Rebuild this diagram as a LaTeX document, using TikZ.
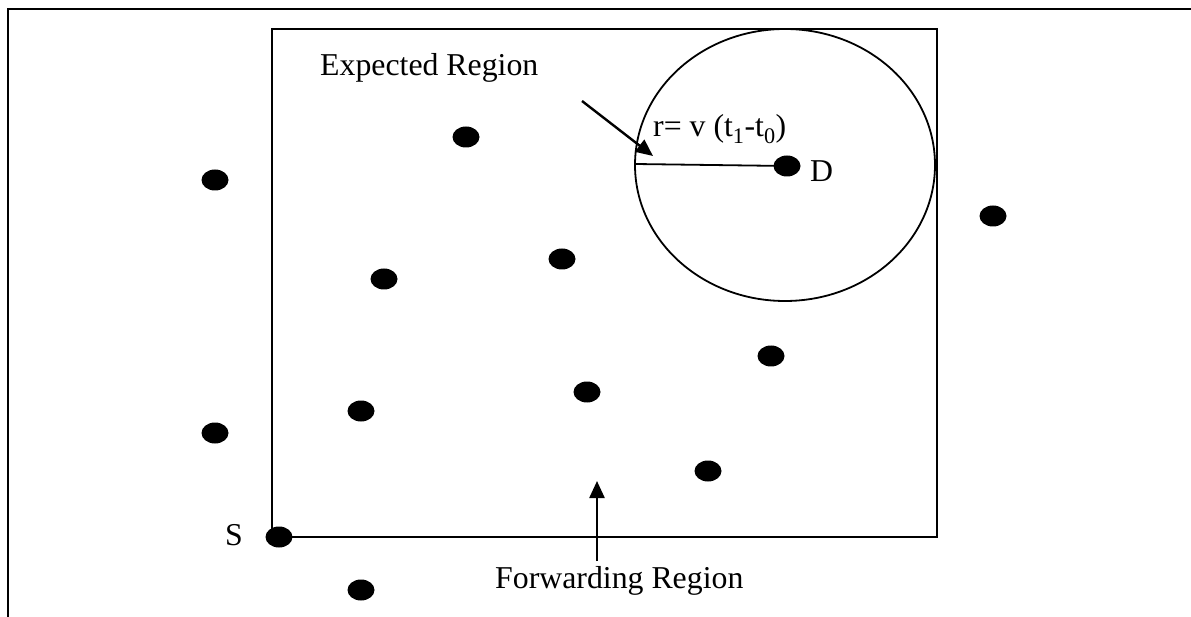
\documentclass[tikz,border=0pt]{standalone}
\usepackage{fontspec}
\setmainfont{Liberation Serif}
\usetikzlibrary{arrows.meta,shapes.geometric}
\tikzset{
  dot/.style={ellipse,fill=black,draw=none,minimum width=27pt,minimum height=21pt,inner sep=0pt},
  lbl/.style={inner sep=0pt,anchor=base west,font=\fontsize{31.8}{38}\selectfont},
  pointer/.style={line width=2.4pt,-{Triangle[length=17pt,width=15pt]}},
  thinline/.style={line width=1.8pt},
}
\begin{document}
\begin{tikzpicture}[x=1pt,y=-1pt]
\useasboundingbox (0,0) rectangle (1191,617);
% outer frame
\draw[line width=2.6pt] (8,617) -- (8,9) -- (1191,9);
% forwarding region rectangle
\draw[thinline] (272,29) rectangle (937,537);
% expected region circle
\draw[thinline] (785,165) ellipse [x radius=150, y radius=136];
% nodes
\node[dot] (n1) at (215,180) {};
\node[dot] (n2) at (466,137) {};
\node[dot] (D) at (787,166) {};
\node[dot] (n4) at (993,216) {};
\node[dot] (n5) at (384,279) {};
\node[dot] (n6) at (562,259) {};
\node[dot] (n7) at (771,356) {};
\node[dot] (n8) at (587,392) {};
\node[dot] (n9) at (361,411) {};
\node[dot] (n10) at (215,433) {};
\node[dot] (n11) at (708,471) {};
\node[dot] (S) at (279,537) {};
\node[dot] (n13) at (361,590) {};
% labels
\node[lbl] (lexp) at (320,76) {Expected Region};
\node[lbl] (lfwd) at (495,588) {Forwarding Region};
\node[lbl] (lr) at (653,137) {r= v (t\textsubscript{1}-t\textsubscript{0})};
\node[lbl] (lD) at (810,182) {D};
\node[lbl] (lS) at (225,545) {S};
% radius
\coordinate (rim) at (635,164);
\draw[thinline] (rim) -- (D.center);
% arrows
\coordinate (a1s) at (582,101);
\coordinate (a1e) at (653,156);
\draw[pointer] (a1s) -- (a1e);
\coordinate (a2s) at (597,561);
\coordinate (a2e) at (597,481);
\draw[pointer] (a2s) -- (a2e);
\end{tikzpicture}
\end{document}
